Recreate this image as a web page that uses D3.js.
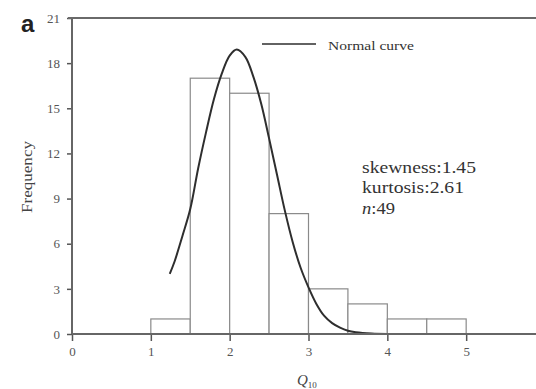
<!DOCTYPE html>
<html>
<head>
<meta charset="utf-8">
<script src="https://cdn.jsdelivr.net/npm/d3@7"></script>
<style>
  html, body { margin: 0; padding: 0; background: #fff; }
  svg { display: block; }
  text { font-family: "Liberation Serif", "Times New Roman", serif; }
</style>
</head>
<body>
<svg id="chart" width="536" height="389"></svg>
<script>
// Histogram bins (lower edge, upper edge) and frequencies
const binStarts = [1.0, 1.5, 2.0, 2.5, 3.0, 3.5, 4.0, 4.5];
const binEnds   = [1.5, 2.0, 2.5, 3.0, 3.5, 4.0, 4.5, 5.0];
const frequencies = [1, 17, 16, 8, 3, 2, 1, 1];

// Normal curve points
const curveX = [1.24, 1.3, 1.4, 1.5, 1.6, 1.7, 1.8, 1.9, 2.0, 2.09, 2.2, 2.3, 2.4, 2.5, 2.6, 2.7, 2.8, 2.9, 3.0, 3.1, 3.2, 3.3, 3.4, 3.5, 3.6, 3.8, 4.0, 4.4, 4.77];
const curveY = [4.0, 4.8, 6.5, 8.3, 11.0, 13.4, 15.6, 17.3, 18.5, 18.9, 18.4, 17.1, 15.3, 13.0, 10.6, 8.2, 6.1, 4.4, 3.1, 2.0, 1.2, 0.72, 0.42, 0.22, 0.12, 0.03, 0.0, 0.0, 0.0];

const xTicks = [0, 1, 2, 3, 4, 5];
const yTicks = [0, 3, 6, 9, 12, 15, 18, 21];
const statsLines = ["skewness:1.45", "kurtosis:2.61", "n:49"];

const svg = d3.select("#chart");
const x = d3.scaleLinear().domain([0, 6]).range([72, 545]);
const y = d3.scaleLinear().domain([0, 21]).range([334, 18]);

// bars
svg.append("g").selectAll("rect")
  .data(frequencies)
  .join("rect")
  .attr("x", (d, i) => x(binStarts[i]))
  .attr("width", (d, i) => x(binEnds[i]) - x(binStarts[i]))
  .attr("y", d => y(d))
  .attr("height", d => y(0) - y(d))
  .attr("fill", "#fff")
  .attr("stroke", "#8a8a8a")
  .attr("stroke-width", 1.2);

// normal curve
const pts = curveX.map((v, i) => [v, curveY[i]]);
svg.append("path")
  .datum(pts)
  .attr("d", d3.line().x(d => x(d[0])).y(d => y(d[1])).curve(d3.curveCatmullRom))
  .attr("fill", "none")
  .attr("stroke", "#2e2e2e")
  .attr("stroke-width", 2);

// axes
const xAxis = svg.append("g")
  .attr("transform", `translate(0,${y(0)})`)
  .call(d3.axisBottom(x).tickValues(xTicks).tickFormat(d3.format("d")).tickSize(7).tickPadding(6));
const yAxis = svg.append("g")
  .attr("transform", `translate(${x(0)},0)`)
  .call(d3.axisLeft(y).tickValues(yTicks).tickFormat(d3.format("d")).tickSize(5).tickPadding(7));
[xAxis, yAxis].forEach(g => {
  g.select(".domain").remove();
  g.selectAll(".tick line").attr("stroke", "#555").attr("stroke-width", 1.5);
  g.selectAll(".tick text").attr("fill", "#555").style("font-size", "13px")
    .style("font-family", "'Liberation Serif', serif");
});

// axis lines (frame: left, bottom, top)
svg.append("line").attr("x1", x(0)).attr("x2", 536).attr("y1", y(0)).attr("y2", y(0))
  .attr("stroke", "#666").attr("stroke-width", 2);
svg.append("line").attr("x1", x(0)).attr("x2", x(0)).attr("y1", y(21)).attr("y2", y(0))
  .attr("stroke", "#666").attr("stroke-width", 2);
svg.append("line").attr("x1", x(0) - 4).attr("x2", 536).attr("y1", y(21)).attr("y2", y(21))
  .attr("stroke", "#6a6a6a").attr("stroke-width", 2.2);

// legend
svg.append("line").attr("x1", 262).attr("x2", 316).attr("y1", 44).attr("y2", 44)
  .attr("stroke", "#2e2e2e").attr("stroke-width", 1.6);
svg.append("text").attr("x", 328).attr("y", 50)
  .attr("fill", "#333").style("font-size", "13px")
  .attr("textLength", 86).attr("lengthAdjust", "spacingAndGlyphs")
  .text("Normal curve");

// stats text
const statsWidths = [114, 102, 33];
const statsY = [173, 193, 214];
statsLines.forEach((s, i) => {
  const t = svg.append("text").attr("x", 362).attr("y", statsY[i])
    .attr("fill", "#333").style("font-size", "16px")
    .attr("textLength", statsWidths[i]).attr("lengthAdjust", "spacingAndGlyphs");
  if (s.startsWith("n:")) {
    t.append("tspan").style("font-style", "italic").text("n");
    t.append("tspan").text(s.slice(1));
  } else {
    t.text(s);
  }
});

// y label
svg.append("text")
  .attr("transform", "translate(32,177) rotate(-90)")
  .attr("text-anchor", "middle")
  .attr("fill", "#444").style("font-size", "14px")
  .attr("textLength", 72).attr("lengthAdjust", "spacingAndGlyphs")
  .text("Frequency");

// x label Q10
const xl = svg.append("text").attr("x", 297).attr("y", 385).attr("fill", "#444");
xl.append("tspan").style("font-style", "italic").style("font-size", "15px").text("Q");
xl.append("tspan").attr("dy", 3).style("font-size", "9px").text("10");

// panel label
svg.append("text").attr("x", 21).attr("y", 32)
  .style("font-family", "'Liberation Sans', Arial, sans-serif")
  .style("font-weight", "bold").style("font-size", "24px").attr("fill", "#222")
  .text("a");
</script>
</body>
</html>
